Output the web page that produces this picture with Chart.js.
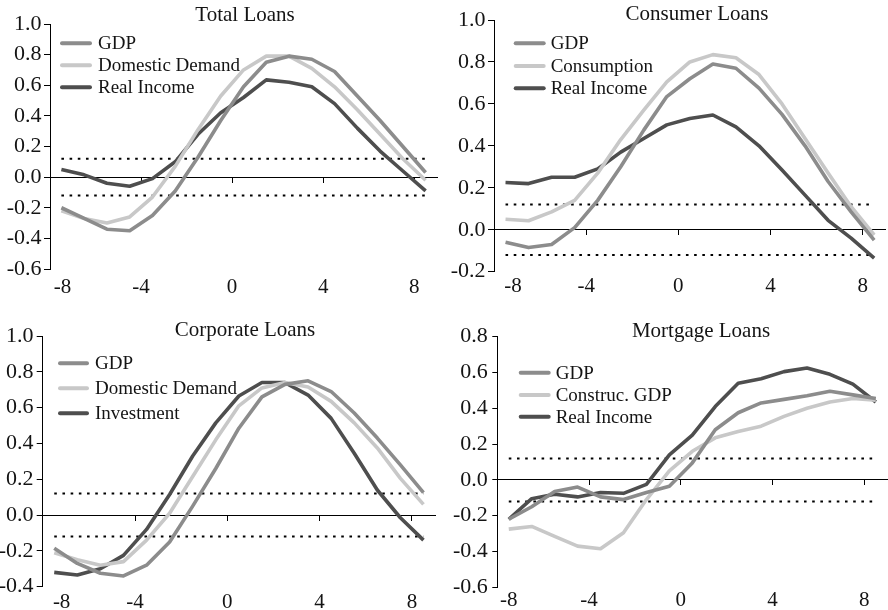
<!DOCTYPE html>
<html>
<head>
<meta charset="utf-8">
<script src="https://cdn.jsdelivr.net/npm/chart.js@4.4.1/dist/chart.umd.min.js"></script>
<style>
html, body { margin: 0; padding: 0; background: #ffffff; }
#wrap { position: relative; width: 888px; height: 610px; overflow: hidden; background: #ffffff; }
#wrap canvas { position: absolute; }
</style>
</head>
<body>
<div id="wrap">
  <canvas id="c1" width="444" height="300" style="left:0px;top:0px;width:444px;height:300px"></canvas>
  <canvas id="c2" width="444" height="300" style="left:444px;top:0px;width:444px;height:300px"></canvas>
  <canvas id="c3" width="444" height="310" style="left:0px;top:300px;width:444px;height:310px"></canvas>
  <canvas id="c4" width="444" height="310" style="left:444px;top:300px;width:444px;height:310px"></canvas>
</div>
<script>
// ---------------- DATA ----------------
const lags = [-8, -7, -6, -5, -4, -3, -2, -1, 0, 1, 2, 3, 4, 5, 6, 7, 8];
const xTickValues = [-8, -4, 0, 4, 8];
const bandLevel = 0.12;   // dotted significance band (+/-)

// Total Loans
const totalTitle = 'Total Loans';
const totalLabels = ['GDP', 'Domestic Demand', 'Real Income'];
const totalGDP        = [-0.20, -0.27, -0.34, -0.35, -0.25, -0.09, 0.13, 0.37, 0.59, 0.75, 0.79, 0.77, 0.69, 0.53, 0.37, 0.20, 0.03];
const totalDomDemand  = [-0.22, -0.27, -0.30, -0.26, -0.13, 0.07, 0.31, 0.53, 0.70, 0.79, 0.79, 0.71, 0.59, 0.44, 0.28, 0.12, -0.02];
const totalRealIncome = [0.05, 0.015, -0.04, -0.06, -0.01, 0.10, 0.28, 0.42, 0.52, 0.635, 0.62, 0.59, 0.48, 0.32, 0.17, 0.04, -0.09];
const totalYTicks = [-0.6, -0.4, -0.2, 0.0, 0.2, 0.4, 0.6, 0.8, 1.0];

// Consumer Loans
const consumerTitle = 'Consumer Loans';
const consumerLabels = ['GDP', 'Consumption', 'Real Income'];
const consumerGDP         = [-0.06, -0.085, -0.07, 0.01, 0.14, 0.30, 0.475, 0.635, 0.72, 0.79, 0.77, 0.675, 0.55, 0.40, 0.23, 0.085, -0.05];
const consumerConsumption = [0.05, 0.043, 0.085, 0.14, 0.27, 0.43, 0.57, 0.705, 0.80, 0.835, 0.82, 0.74, 0.60, 0.435, 0.27, 0.11, -0.025];
const consumerRealIncome  = [0.225, 0.22, 0.25, 0.25, 0.29, 0.37, 0.435, 0.50, 0.53, 0.547, 0.49, 0.40, 0.285, 0.165, 0.045, -0.04, -0.135];
const consumerYTicks = [-0.2, 0.0, 0.2, 0.4, 0.6, 0.8, 1.0];

// Corporate Loans
const corporateTitle = 'Corporate Loans';
const corporateLabels = ['GDP', 'Domestic Demand', 'Investment'];
const corporateGDP        = [-0.185, -0.27, -0.325, -0.34, -0.28, -0.15, 0.05, 0.26, 0.485, 0.66, 0.73, 0.75, 0.69, 0.57, 0.43, 0.28, 0.125];
const corporateDomDemand  = [-0.21, -0.25, -0.28, -0.26, -0.14, 0.01, 0.215, 0.42, 0.61, 0.71, 0.74, 0.715, 0.635, 0.515, 0.375, 0.205, 0.06];
const corporateInvestment = [-0.32, -0.335, -0.30, -0.225, -0.08, 0.115, 0.33, 0.515, 0.665, 0.74, 0.74, 0.67, 0.54, 0.345, 0.14, -0.015, -0.14];
const corporateYTicks = [-0.4, -0.2, 0.0, 0.2, 0.4, 0.6, 0.8, 1.0];

// Mortgage Loans
const mortgageTitle = 'Mortgage Loans';
const mortgageLabels = ['GDP', 'Construc. GDP', 'Real Income'];
const mortgageGDP        = [-0.22, -0.15, -0.065, -0.04, -0.095, -0.11, -0.07, -0.035, 0.095, 0.28, 0.375, 0.43, 0.45, 0.47, 0.495, 0.475, 0.455];
const mortgageConstruc   = [-0.275, -0.26, -0.315, -0.37, -0.385, -0.295, -0.11, 0.05, 0.16, 0.235, 0.27, 0.30, 0.355, 0.40, 0.435, 0.455, 0.445];
const mortgageRealIncome = [-0.22, -0.105, -0.08, -0.095, -0.07, -0.075, -0.025, 0.14, 0.25, 0.41, 0.54, 0.565, 0.605, 0.625, 0.59, 0.535, 0.435];
const mortgageYTicks = [-0.6, -0.4, -0.2, 0.0, 0.2, 0.4, 0.6, 0.8];

// ---------------- STYLE ----------------
const seriesColors = ['#8c8c8c', '#c8c8c8', '#4e4e4e'];
const fontFamily = '"Liberation Serif", "Times New Roman", serif';
const xTickFontSize = 21;
const yTickFontSize = 22;
const titleFontSize = 21;
const legendFontSize = 19;
const textColor = '#141414';
Chart.defaults.font.family = fontFamily;
Chart.defaults.color = textColor;

// canvas-local layout of each panel (plot box, title, legend, first x-label nudge in axis units)
const layoutTotal     = { left: 50,   right: 437,   top: 24,   bottom: 269,   titleX: 245, titleY: 21,   legX: 62,   legW: 28, legTextX: 98,    legY: [43.3, 65.3, 87.3],  xLabelCenter: 287,   yTickLen: 6, yPad: 2.5, firstLabelNudge: 0.55 };
const layoutConsumer  = { left: 50,   right: 441.7, top: 20,   bottom: 271.7, titleX: 253, titleY: 20,   legX: 71.7, legW: 28, legTextX: 106.7, legY: [43.3, 66, 88.3],    xLabelCenter: 286.7, yTickLen: 6, yPad: 2.5, firstLabelNudge: 0.82 };
const layoutCorporate = { left: 42.7, right: 435,   top: 36,   bottom: 286.7, titleX: 245, titleY: 36,   legX: 60,   legW: 27, legTextX: 95,    legY: [63.3, 88.3, 113.3], xLabelCenter: 302.5, yTickLen: 6, yPad: 3.2, firstLabelNudge: 0.82 };
const layoutMortgage  = { left: 53.3, right: 443.3, top: 36.7, bottom: 287.3, titleX: 257, titleY: 37.3, legX: 76.7, legW: 28, legTextX: 111.7, legY: [72.7, 95, 116.7],  xLabelCenter: 300.8, yTickLen: 5, yPad: 4.5, firstLabelNudge: 0.5 };

// ---------------- PLUGIN: title + in-plot legend ----------------
const panelDecor = {
  id: 'panelDecor',
  afterDraw(chart, args, opts) {
    const ctx = chart.ctx;
    ctx.save();
    ctx.fillStyle = textColor;
    ctx.textBaseline = 'alphabetic';
    ctx.textAlign = 'center';
    ctx.font = titleFontSize + 'px ' + fontFamily;
    ctx.fillText(opts.title, opts.titleX, opts.titleY);
    ctx.textAlign = 'left';
    ctx.font = legendFontSize + 'px ' + fontFamily;
    chart.data.datasets.filter(d => !d.isBand).forEach((d, i) => {
      const y = opts.legY[i];
      ctx.strokeStyle = d.borderColor;
      ctx.lineWidth = 4;
      ctx.lineCap = 'round';
      ctx.beginPath();
      ctx.moveTo(opts.legX, y);
      ctx.lineTo(opts.legX + opts.legW, y);
      ctx.stroke();
      ctx.fillStyle = textColor;
      ctx.fillText(d.label, opts.legTextX, y + 6);
    });
    ctx.restore();
  }
};

function makePanel(canvasId, title, labels, seriesList, yTicks, L) {
  const canvas = document.getElementById(canvasId);
  const W = canvas.width, H = canvas.height;
  const lineHeight = xTickFontSize * 1.2;
  const xPad = L.xLabelCenter - L.bottom - lineHeight / 2;
  // each lag sits in the middle of its one-unit slot on the axis
  const slotX = lag => lag + 0.5;

  const datasets = seriesList.map((vals, i) => ({
    label: labels[i],
    data: lags.map((lag, k) => ({ x: slotX(lag), y: vals[k] })),
    borderColor: seriesColors[i],
    backgroundColor: seriesColors[i],
    borderWidth: 3.6,
    pointRadius: 0,
    tension: 0,
    fill: false,
    borderJoinStyle: 'round',
    xAxisID: 'x',
    yAxisID: 'y'
  }));
  [bandLevel, -bandLevel].forEach(v => {
    datasets.push({
      label: '',
      isBand: true,
      data: lags.map(lag => ({ x: slotX(lag), y: v })),
      borderColor: '#000000',
      borderWidth: 2,
      borderDash: [2.6, 5.6],
      pointRadius: 0,
      fill: false,
      xAxisID: 'x',
      yAxisID: 'y'
    });
  });

  return new Chart(canvas, {
    type: 'line',
    data: { datasets },
    options: {
      responsive: false,
      animation: false,
      events: [],
      layout: { padding: { top: L.top, right: W - L.right, bottom: 0, left: 0 } },
      plugins: {
        legend: { display: false },
        title: { display: false },
        tooltip: { enabled: false },
        panelDecor: { title, titleX: L.titleX, titleY: L.titleY, legX: L.legX, legW: L.legW, legTextX: L.legTextX, legY: L.legY }
      },
      scales: {
        x: {
          type: 'linear', position: 'bottom', min: lags[0], max: lags[lags.length - 1] + 1,
          // label positions; the first label sits clear of the y axis as in the source
          afterBuildTicks: s => { s.ticks = xTickValues.map((v, i) => ({ value: i === 0 ? v + L.firstLabelNudge : v })); },
          afterFit: s => { s.height = H - L.bottom; },
          grid: { display: false, drawTicks: false, tickLength: 0 },
          border: { display: false },
          ticks: { font: { family: fontFamily, size: xTickFontSize }, color: textColor, padding: xPad, maxRotation: 0, autoSkip: false,
                   callback: (v, i) => String(xTickValues[i]) }
        },
        x0: {
          type: 'linear', axis: 'x', position: { y: 0 }, min: lags[0], max: lags[lags.length - 1] + 1,
          afterBuildTicks: s => { s.ticks = xTickValues.map(v => ({ value: v })); },
          afterFit: s => { s.height = 0; },
          grid: { display: true, drawOnChartArea: false, drawTicks: true, tickLength: 5, color: '#000000', lineWidth: 1 },
          border: { display: true, color: '#000000', width: 1 },
          ticks: { display: false }
        },
        y: {
          type: 'linear', position: 'left', min: yTicks[0], max: yTicks[yTicks.length - 1],
          afterBuildTicks: s => { s.ticks = yTicks.map(v => ({ value: v })); },
          afterFit: s => { s.width = L.left; },
          grid: { drawOnChartArea: false, drawTicks: true, tickLength: L.yTickLen, color: '#000000', lineWidth: 1 },
          border: { display: true, color: '#000000', width: 1 },
          ticks: { font: { family: fontFamily, size: yTickFontSize }, color: textColor, padding: L.yPad, callback: v => Number(v).toFixed(1) }
        }
      }
    },
    plugins: [panelDecor]
  });
}

makePanel('c1', totalTitle, totalLabels, [totalGDP, totalDomDemand, totalRealIncome], totalYTicks, layoutTotal);
makePanel('c2', consumerTitle, consumerLabels, [consumerGDP, consumerConsumption, consumerRealIncome], consumerYTicks, layoutConsumer);
makePanel('c3', corporateTitle, corporateLabels, [corporateGDP, corporateDomDemand, corporateInvestment], corporateYTicks, layoutCorporate);
makePanel('c4', mortgageTitle, mortgageLabels, [mortgageGDP, mortgageConstruc, mortgageRealIncome], mortgageYTicks, layoutMortgage);
</script>
</body>
</html>
